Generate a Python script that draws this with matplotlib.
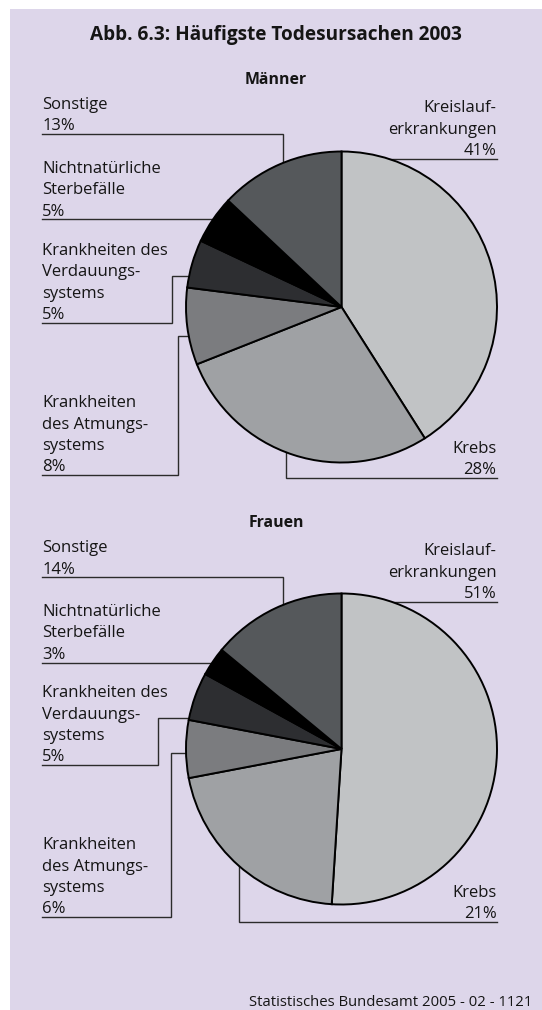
import matplotlib.pyplot as plt
import numpy as np
from matplotlib.patches import Rectangle

plt.rcParams["font.family"] = ["Open Sans", "DejaVu Sans"]

# --- data ---
categories = [
    "Kreislauf-\nerkrankungen",
    "Krebs",
    "Krankheiten\ndes Atmungs-\nsystems",
    "Krankheiten des\nVerdauungs-\nsystems",
    "Nichtnatürliche\nSterbefälle",
    "Sonstige",
]
maenner = [41, 28, 8, 5, 5, 13]
frauen = [51, 21, 6, 5, 3, 14]
colors = ["#c1c3c5", "#9fa1a4", "#7b7c7f", "#2d2e31", "#000000", "#55585b"]

title = "Abb. 6.3: Häufigste Todesursachen 2003"
source = "Statistisches Bundesamt 2005 - 02 - 1121"

# --- layout (pixels, y from top) ---
W, H = 542, 1010
BG = "#ddd6ea"
LINE = "#2b2b2b"
TXT = "#151515"
R = 155.5
CX = 341.5
LEFT_X, RIGHT_X = 42.3, 496.5
STEP = 21.3

# (side, underline y, turn x, turn y) per category
leaders_m = [
    ("right", 158.7, None, None),
    ("right", 478.3, 286.0, None),
    ("left", 475.0, 177.7, 335.7),
    ("left", 322.7, 171.8, 276.0),
    ("left", 219.3, None, None),
    ("left", 134.0, 282.8, None),
]
leaders_f = [
    ("right", 601.7, None, None),
    ("right", 921.7, 239.4, None),
    ("left", 917.0, 170.7, 753.3),
    ("left", 765.0, 157.7, 718.3),
    ("left", 662.5, None, None),
    ("left", 577.3, 282.8, None),
]

fig = plt.figure(figsize=(W / 100, H / 100), dpi=100)
ax = fig.add_axes([0, 0, 1, 1])
ax.set_xlim(0, W)
ax.set_ylim(H, 0)
ax.axis("off")
ax.add_patch(Rectangle((10.4, 9), W, H, facecolor=BG, edgecolor="none"))

ax.text(275.5, 40, title, ha="center", va="baseline", fontsize=13.7,
        fontweight="bold", color=TXT)
ax.text(532.5, 1006, source, ha="right", va="baseline", fontsize=10.7,
        color=TXT)


def edge_x(y, cy, side):
    dx = np.sqrt(R ** 2 - (y - cy) ** 2)
    return CX + dx if side == "right" else CX - dx


def edge_y(x, cy, below):
    dy = np.sqrt(R ** 2 - (x - CX) ** 2)
    return cy + dy if below else cy - dy


def draw_chart(values, cy, heading, heading_y, leaders):
    pax = fig.add_axes([(CX - R) / W, 1 - (cy + R) / H, 2 * R / W, 2 * R / H])
    wedges, _ = pax.pie(values, colors=colors, startangle=90, counterclock=False,
                        wedgeprops=dict(edgecolor="black", linewidth=1.4))
    for w in wedges:
        w.set_clip_on(False)
    pax.set_xlim(-1, 1)
    pax.set_ylim(-1, 1)
    pax.set_aspect("auto")

    ax.text(276, heading_y, heading, ha="center", va="center", fontsize=11.4,
            fontweight="bold", color=TXT)

    for cat, val, (side, uy, tx, ty) in zip(categories, values, leaders):
        lines = cat.split("\n") + [f"{val}%"]
        base = uy - 3.8
        n = len(lines)
        x_text = LEFT_X if side == "left" else RIGHT_X
        for i, ln in enumerate(lines):
            ax.text(x_text, base - (n - 1 - i) * STEP, ln, ha=side, va="baseline",
                    fontsize=12, color=TXT)

        if tx is None:
            xs = [x_text, edge_x(uy, cy, side)]
            ys = [uy, uy]
        elif ty is None:
            xs = [x_text, tx, tx]
            ys = [uy, uy, edge_y(tx, cy, uy > cy)]
        else:
            xs = [x_text, tx, tx, edge_x(ty, cy, side)]
            ys = [uy, uy, ty, ty]
        ax.plot(xs, ys, color=LINE, linewidth=1.0, solid_joinstyle="miter")


draw_chart(maenner, 307.0, "Männer", 80, leaders_m)
draw_chart(frauen, 749.0, "Frauen", 523.3, leaders_f)

fig.savefig("out.png", dpi=100)
